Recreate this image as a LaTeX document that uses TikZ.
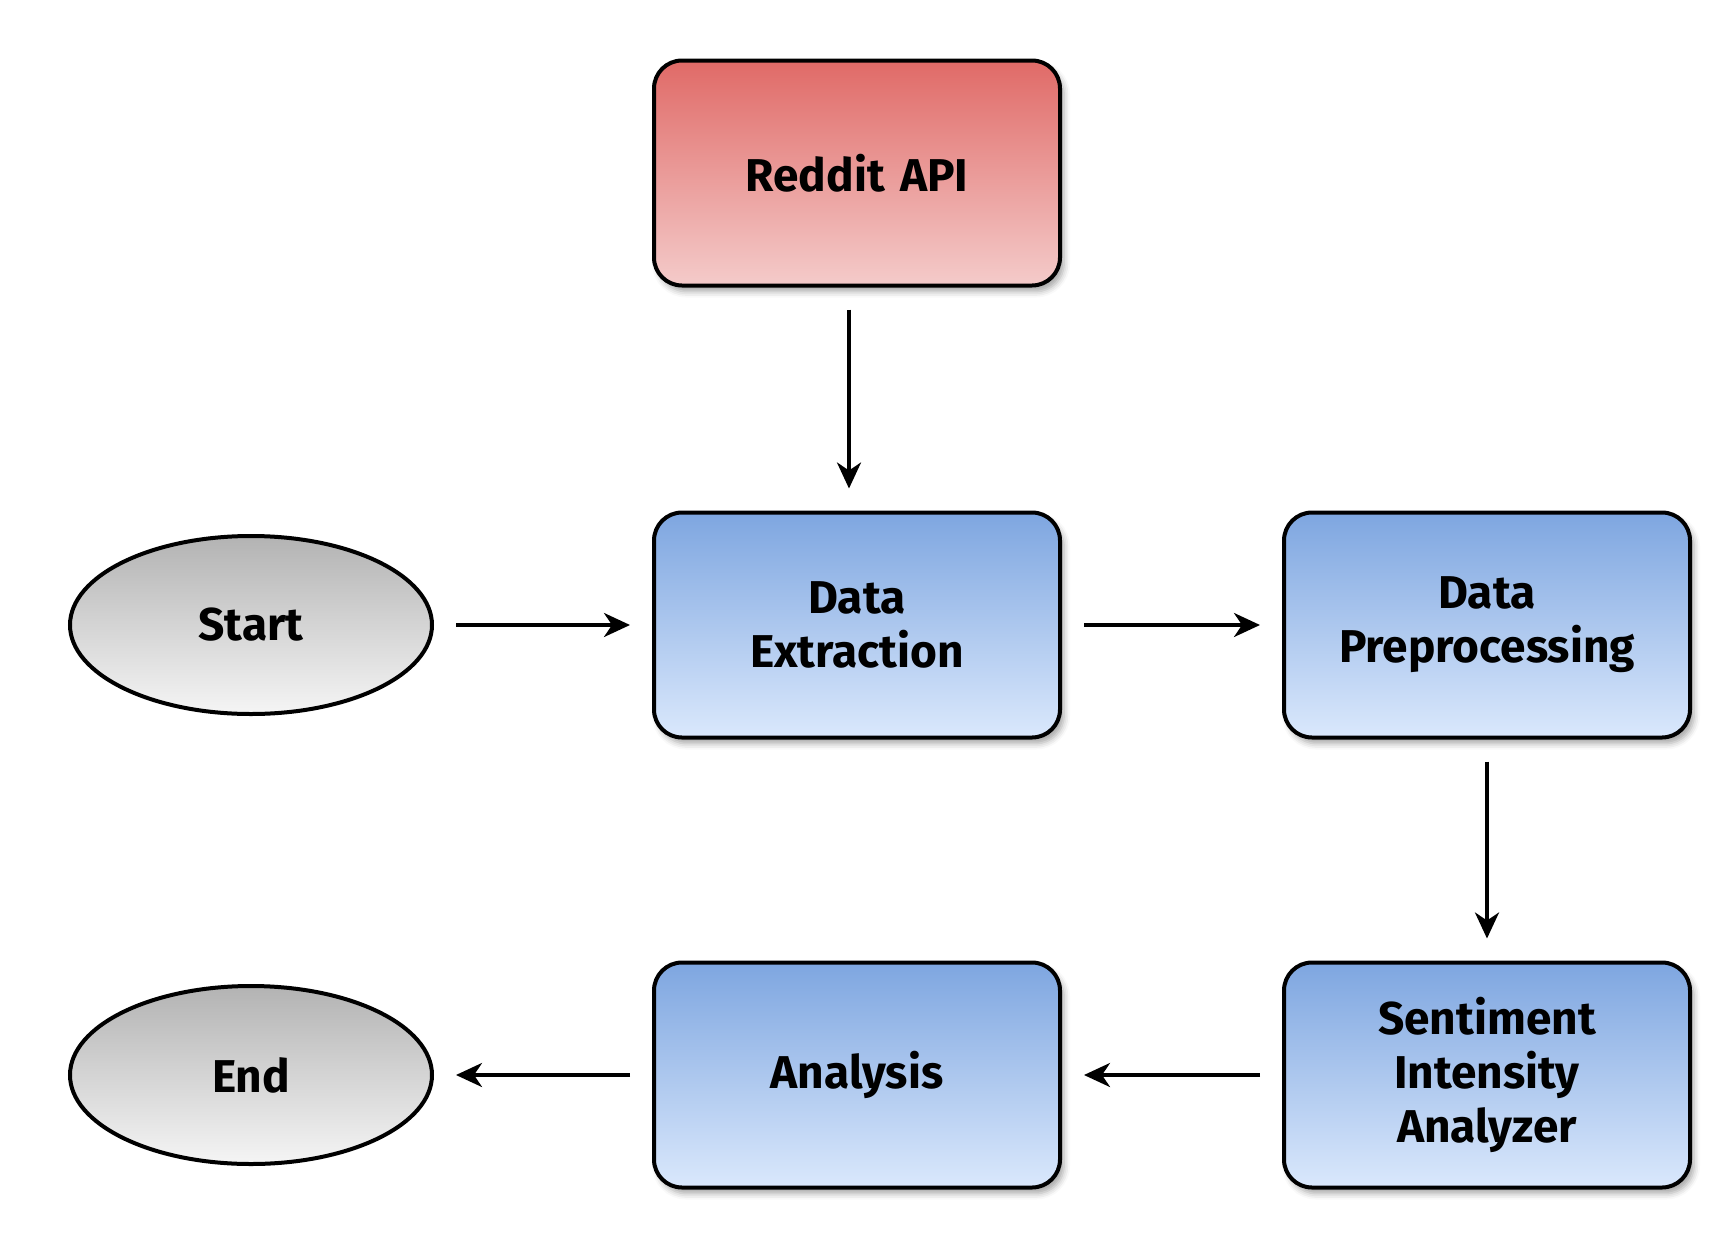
\documentclass[tikz,border=0pt]{standalone}
\usepackage{fontspec}
\setmainfont{Fira Sans}
\usetikzlibrary{arrows.meta,shapes.geometric,shadows.blur}
\definecolor{redtop}{HTML}{E06A67}
\definecolor{redbot}{HTML}{F4CBCA}
\definecolor{bluetop}{HTML}{7EA6E0}
\definecolor{bluebot}{HTML}{DAE8FC}
\definecolor{graytop}{HTML}{B3B3B3}
\definecolor{graybot}{HTML}{F5F5F5}
\tikzset{
  box/.style={rectangle, rounded corners=28pt, draw=black, line width=4pt,
    minimum width=406pt, minimum height=225pt, align=center, text width=380pt,
    font=\fontsize{46}{54}\selectfont\bfseries,
    blur shadow={shadow xshift=4pt, shadow yshift=-6pt, shadow blur radius=6pt, shadow opacity=35}},
  redbox/.style={box, top color=redtop, bottom color=redbot},
  bluebox/.style={box, top color=bluetop, bottom color=bluebot},
  term/.style={ellipse, draw=black, line width=4pt, minimum width=362pt, minimum height=178pt,
    top color=graytop, bottom color=graybot, align=center,
    font=\fontsize{46}{54}\selectfont\bfseries},
  flow/.style={line width=3.5pt, -{Stealth[length=26pt,width=24pt,inset=8pt]},
    shorten <=22pt, shorten >=22pt}
}
\begin{document}
\begin{tikzpicture}[x=1pt,y=-1pt]
\useasboundingbox (0,0) rectangle (1733,1248);
\node[redbox] (api) at (857,173) {Reddit API};
\node[bluebox] (ext) at (857,625) {Data\\Extraction};
\node[bluebox] (pre) at (1487,625) {Data\\Preprocessing};
\node[bluebox] (sia) at (1487,1075) {Sentiment\\Intensity\\Analyzer};
\node[bluebox] (ana) at (857,1075) {Analysis};
\node[term] (start) at (251,625) {Start};
\node[term] (end) at (251,1075) {End};
\draw[flow] ([xshift=-8pt]api.south) -- ([xshift=-8pt]ext.north);
\draw[flow] (start) -- (ext);
\draw[flow] (ext) -- (pre);
\draw[flow] (pre) -- (sia);
\draw[flow] (sia) -- (ana);
\draw[flow] (ana) -- (end);
\end{tikzpicture}
\end{document}
